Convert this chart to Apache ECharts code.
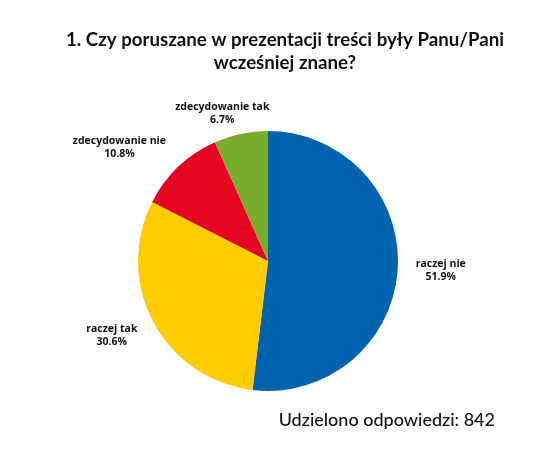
<!DOCTYPE html>
<html>
<head>
<meta charset="utf-8">
<script src="https://cdn.jsdelivr.net/npm/echarts@6/dist/echarts.min.js"></script>
<style>
  html, body { margin: 0; padding: 0; background: #fff; }
  #main { width: 540px; height: 453px; }
</style>
</head>
<body>
<div id="main"></div>
<script>
var categories = ['raczej nie', 'raczej tak', 'zdecydowanie nie', 'zdecydowanie tak'];
var percents = [51.9, 30.6, 10.8, 6.7];
var colors = ['#0063af', '#ffcc00', '#e30521', '#78ae2b'];
var total = 842;

var myChart = echarts.init(document.getElementById('main'));

var pieData = categories.map(function (name, i) {
    return { name: name, value: percents[i], itemStyle: { color: colors[i] } };
});

// push each label out from the pie, keeping its box clear of the edge
function placeLabel(params) {
    var data = myChart.getModel().getSeriesByIndex(0).getData();
    var lay = data.getItemLayout(params.dataIndex);
    var mid = (lay.startAngle + lay.endAngle) / 2;
    var c = Math.cos(mid), s = Math.sin(mid);
    var w = params.labelRect.width, h = params.labelRect.height;
    var clamp = function (v) { return Math.max(-1, Math.min(1, v * 1.5)); };
    return {
        x: lay.cx + (lay.r + 18) * c + w / 2 * clamp(c),
        y: lay.cy + (lay.r + 8) * s + h / 2 * clamp(s),
        align: 'center',
        verticalAlign: 'middle'
    };
}

var option = {
    animation: false,
    title: [
        {
            text: '1. Czy poruszane w prezentacji treści były Panu/Pani\nwcześniej znane?',
            left: 280,
            textAlign: 'center',
            top: 23,
            textStyle: {
                fontFamily: 'Lato',
                fontWeight: 'bold',
                fontSize: 18.7,
                lineHeight: 23,
                color: '#111'
            }
        },
        {
            text: 'Udzielono odpowiedzi: ' + total,
            right: 40,
            top: 406,
            textStyle: {
                fontFamily: 'Lato',
                fontWeight: 500,
                fontSize: 18,
                color: '#111'
            }
        }
    ],
    series: [
        {
            type: 'pie',
            center: [268, 261],
            radius: 130,
            startAngle: 90,
            clockwise: true,
            data: pieData,
            label: {
                show: true,
                position: 'outside',
                formatter: function (p) { return p.name + '\n' + p.value.toFixed(1) + '%'; },
                fontFamily: 'Open Sans',
                fontWeight: 'bold',
                fontSize: 10.5,
                lineHeight: 13,
                color: '#111'
            },
            labelLine: { show: false },
            labelLayout: placeLabel,
            itemStyle: { borderWidth: 0 },
            emphasis: { disabled: true }
        }
    ]
};
myChart.setOption(option);
</script>
</body>
</html>
